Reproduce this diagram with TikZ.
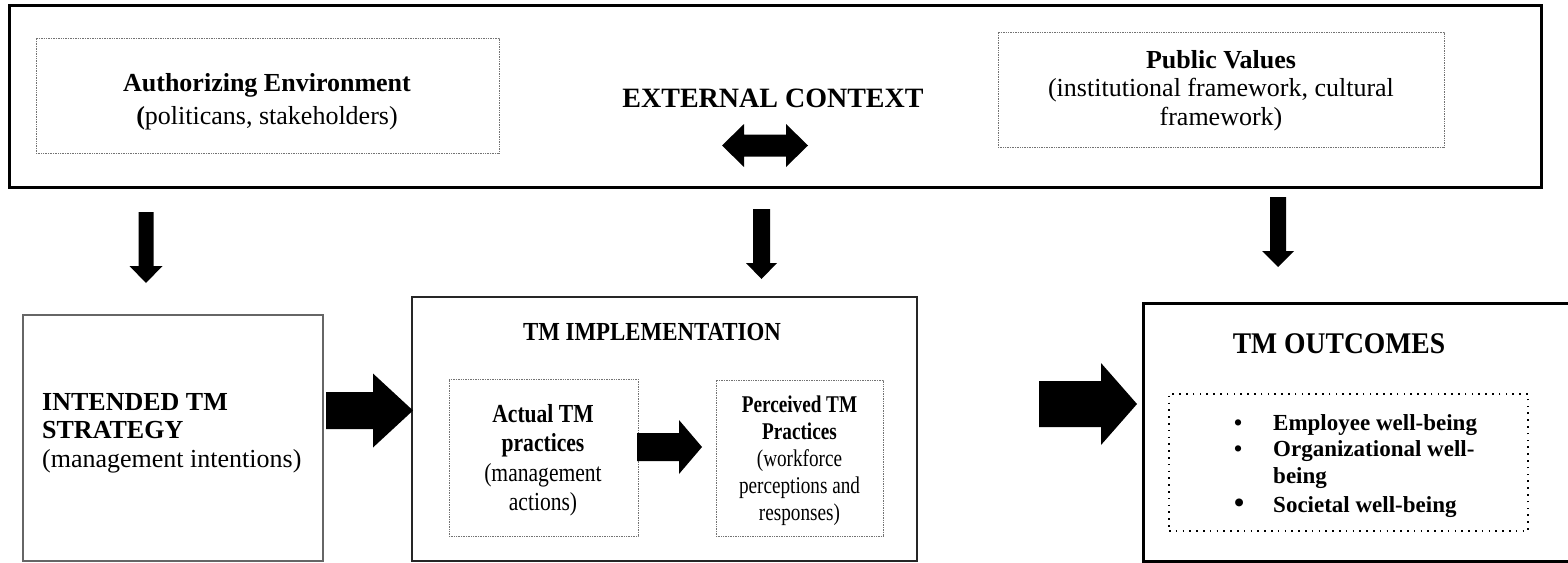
\documentclass[tikz,border=0pt]{standalone}
\usepackage{fontspec}
\setmainfont{Liberation Serif}
\newfontfamily\condT[FakeStretch=0.88]{Liberation Serif}
\newfontfamily\condA[FakeStretch=0.83]{Liberation Serif}
\newfontfamily\condB[FakeStretch=0.80]{Liberation Serif}
\newfontfamily\condO[FakeStretch=0.92]{Liberation Serif}
% right-pointing block arrow: x0, xhead, xtip, ycenter, shaft half, head half
\newcommand{\rblock}[6]{%
  \fill (#1,#4-#5) -- (#2,#4-#5) -- (#2,#4-#6) -- (#3,#4) -- (#2,#4+#6) -- (#2,#4+#5) -- (#1,#4+#5) -- cycle;}
% down-pointing block arrow: y0, yhead, ytip, xcenter, shaft half, head half
\newcommand{\dblock}[6]{%
  \fill (#4-#5,#1) -- (#4+#5,#1) -- (#4+#5,#2) -- (#4+#6,#2) -- (#4,#3) -- (#4-#6,#2) -- (#4-#5,#2) -- cycle;}
\tikzset{
  ctxbox/.style={draw=black, line width=3pt, inner sep=0pt},
  graydot/.style={draw=black!55, line width=0.9pt, dash pattern=on 1pt off 0.7pt, inner sep=0pt},
  thinbox/.style={draw=black!60, line width=1.2pt, inner sep=0pt},
  implbox/.style={draw=black!85, line width=2.2pt, inner sep=0pt},
  outbox/.style={draw=black, line width=3pt, inner sep=0pt},
  blackdot/.style={draw=black, line width=2pt, dash pattern=on 1.6pt off 5.2pt, inner sep=0pt},
  txt/.style={inner sep=0pt, anchor=base},
}
\begin{document}
\begin{tikzpicture}[x=1pt,y=-1pt]
\useasboundingbox (0,0) rectangle (1568,562);
\fill[white] (0,0) rectangle (1568,562);

% ---- external context ----
\node[ctxbox, minimum width=1532pt, minimum height=182pt] (ctx) at (775,96) {};
\node[graydot, minimum width=463pt, minimum height=115pt] (auth) at (267.5,95.5) {};
\node[graydot, minimum width=446pt, minimum height=115pt] (pv) at (1221,89.5) {};

% (multi-line nodes: base anchor = baseline of last line)
\node[txt, align=center, font=\fontsize{26}{33}\selectfont] (authT) at (267,124)
  {\textbf{Authorizing Environment}\\\textbf{(}politicans, stakeholders)};
\node[txt, font=\fontsize{28}{33}\selectfont\bfseries] (ctxT) at (773,107) {EXTERNAL CONTEXT};
\node[txt, align=center, font=\fontsize{26}{28.5}\selectfont] (pvT) at (1221,125)
  {\textbf{Public Values}\\(institutional framework, cultural\\framework)};

% double arrow
\fill (722,145.5) -- (744,124) -- (744,134.5) -- (786,134.5) -- (786,124) -- (808,145.5)
  -- (786,167) -- (786,156.5) -- (744,156.5) -- (744,167) -- cycle;

% down arrows
\dblock{212}{266}{283}{146}{7.5}{16.5}
\dblock{209}{263}{279}{761.5}{8.5}{15.5}
\dblock{197}{251}{267}{1278}{8}{16}

% ---- bottom row ----
\node[thinbox, minimum width=300pt, minimum height=246pt] (intended) at (173,438) {};
\node[txt, anchor=base west, align=left, font=\fontsize{26}{28.5}\selectfont] (intT) at (42,467)
  {\textbf{INTENDED TM}\\\textbf{STRATEGY}\\(management intentions)};

\node[implbox, minimum width=505pt, minimum height=264pt] (impl) at (664.5,429) {};
\node[txt, font=\fontsize{26}{30}\condT\bfseries] (implT) at (652,340) {TM IMPLEMENTATION};
\node[graydot, minimum width=189pt, minimum height=157pt] (actual) at (543.5,457.5) {};
\node[graydot, minimum width=167pt, minimum height=156pt] (perc) at (799.5,458) {};
\node[txt, align=center, font=\fontsize{26}{29.5}\condA] (actT) at (543,510.5)
  {\textbf{Actual TM}\\\textbf{practices}\\(management\\actions)};
\node[txt, align=center, font=\fontsize{24}{27}\condB] (percT) at (799.5,520)
  {\textbf{Perceived TM}\\\textbf{Practices}\\(workforce\\perceptions and\\responses)};

\node[outbox, minimum width=437pt, minimum height=258pt] (outc) at (1361.5,432) {};
\node[txt, font=\fontsize{30}{34}\condO\bfseries] (outT) at (1339,353) {TM OUTCOMES};
\node[blackdot, minimum width=359pt, minimum height=137pt] (outl) at (1348.5,462.5) {};
\node[txt, anchor=base west, align=left, font=\fontsize{23}{26.5}\selectfont\bfseries] (outL) at (1234,512)
  {\makebox[39pt][l]{\textbullet}Employee well-being\\
   \makebox[39pt][l]{\textbullet}Organizational well-\\
   \makebox[39pt][l]{}being\\[2.5pt]
   \makebox[39pt][l]{{\fontsize{29}{26.5}\selectfont\textbullet}}Societal well-being};

% block arrows between stages
\rblock{326}{373}{413}{410.5}{18.5}{37}
\rblock{637}{679}{702}{447}{14}{27}
\rblock{1039}{1101}{1137}{404}{23}{41}
\end{tikzpicture}
\end{document}
